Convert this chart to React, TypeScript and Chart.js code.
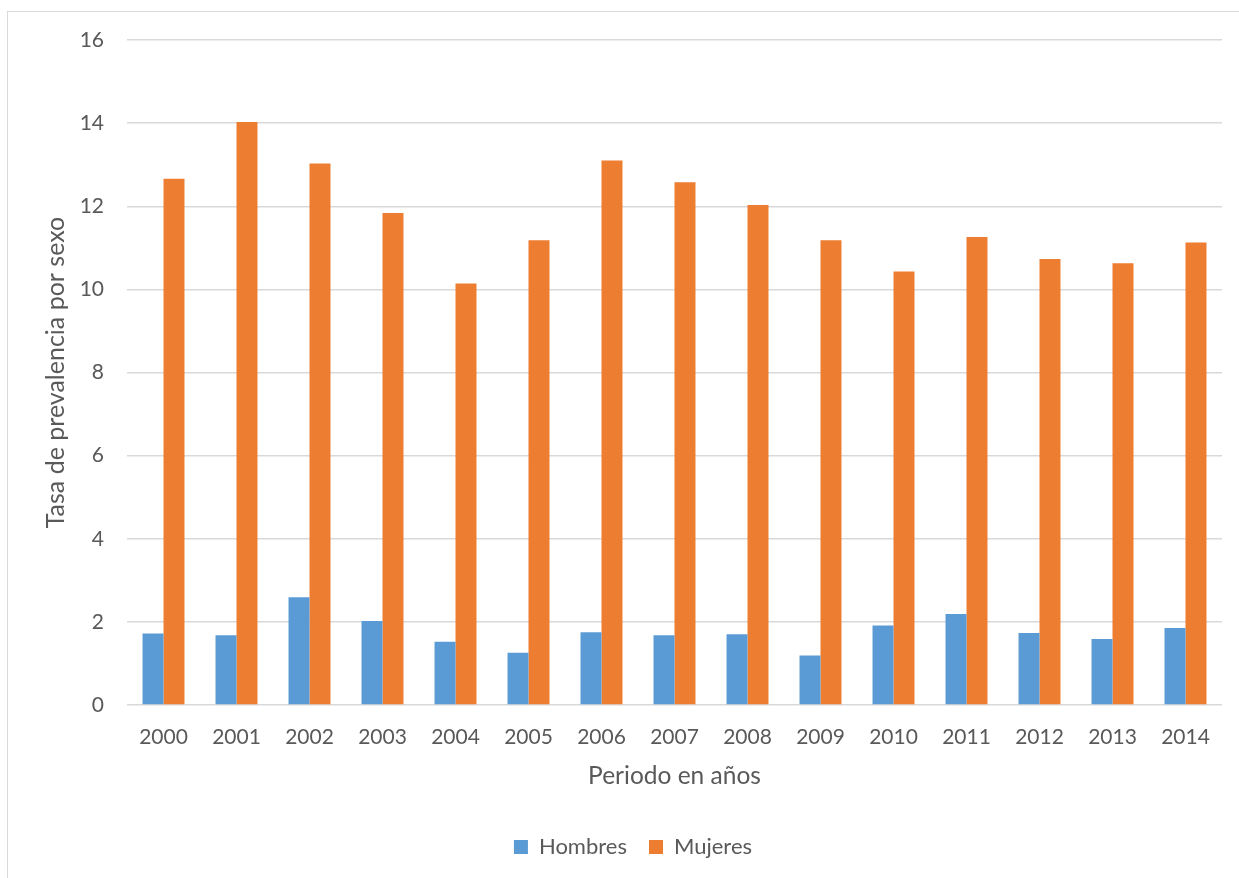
import React, { useEffect, useRef } from "react";
import { Chart, registerables } from "chart.js";

Chart.register(...registerables);

const years = [
  "2000", "2001", "2002", "2003", "2004", "2005", "2006", "2007",
  "2008", "2009", "2010", "2011", "2012", "2013", "2014",
];

const hombres = [1.72, 1.68, 2.59, 2.02, 1.52, 1.26, 1.75, 1.68, 1.7, 1.19, 1.91, 2.19, 1.73, 1.59, 1.85];
const mujeres = [12.66, 14.03, 13.03, 11.84, 10.14, 11.18, 13.1, 12.58, 12.03, 11.18, 10.43, 11.26, 10.73, 10.63, 11.13];

const yTicks = [0, 2, 4, 6, 8, 10, 12, 14, 16];

const W = 1239;
const H = 878;
const FONT = "Lato, 'Open Sans', sans-serif";
const TEXT = "#595959";

export default function App() {
  const ref = useRef<HTMLCanvasElement | null>(null);

  useEffect(() => {
    const canvas = ref.current;
    if (!canvas) return;
    const chart = new Chart(canvas, {
      type: "bar",
      data: {
        labels: years,
        datasets: [
          {
            label: "Hombres",
            data: hombres,
            backgroundColor: "#5b9bd5",
            categoryPercentage: 0.575,
            barPercentage: 1,
          },
          {
            label: "Mujeres",
            data: mujeres,
            backgroundColor: "#ed7d31",
            categoryPercentage: 0.575,
            barPercentage: 1,
          },
        ],
      },
      options: {
        responsive: false,
        animation: false,
        layout: { padding: { left: 44, right: 17, top: 40, bottom: 10 } },
        plugins: {
          tooltip: { enabled: false },
          legend: {
            position: "bottom",
            labels: {
              boxWidth: 14,
              boxHeight: 14,
              padding: 22,
              color: TEXT,
              font: { family: FONT, size: 22 },
            },
          },
        },
        scales: {
          x: {
            grid: { display: false },
            border: { display: false },
            ticks: { color: TEXT, font: { family: FONT, size: 21 }, padding: 12, maxRotation: 0 },
            title: {
              display: true,
              text: "Periodo en años",
              color: TEXT,
              font: { family: FONT, size: 24.5 },
              padding: { top: 0, bottom: 23 },
            },
            afterFit: (scale: any) => {
              scale.height = 109;
            },
          },
          y: {
            min: 0,
            max: 16,
            afterBuildTicks: (scale: any) => {
              scale.ticks = yTicks.map((v) => ({ value: v }));
            },
            grid: { color: "#d9d9d9", lineWidth: 1.5, drawTicks: false },
            border: { display: false },
            ticks: { color: TEXT, font: { family: FONT, size: 21 }, padding: 23 },
            title: {
              display: true,
              text: "Tasa de prevalencia por sexo",
              color: TEXT,
              font: { family: FONT, size: 25 },
              padding: { top: -3, bottom: 0 },
            },
            afterFit: (scale: any) => {
              scale.width = 83;
            },
          },
        },
      },
    });
    return () => chart.destroy();
  }, []);

  return (
    <div style={{ position: "fixed", left: 0, top: 0, width: W, height: H, background: "#fff", overflow: "hidden" }}>
      <div
        style={{
          position: "absolute",
          left: 7,
          top: 11,
          width: W + 20,
          height: H + 20,
          border: "1px solid #d9d9d9",
          boxSizing: "border-box",
        }}
      />
      <canvas ref={ref} width={W} height={H} style={{ position: "absolute", left: 0, top: 0, width: W, height: H }} />
    </div>
  );
}
